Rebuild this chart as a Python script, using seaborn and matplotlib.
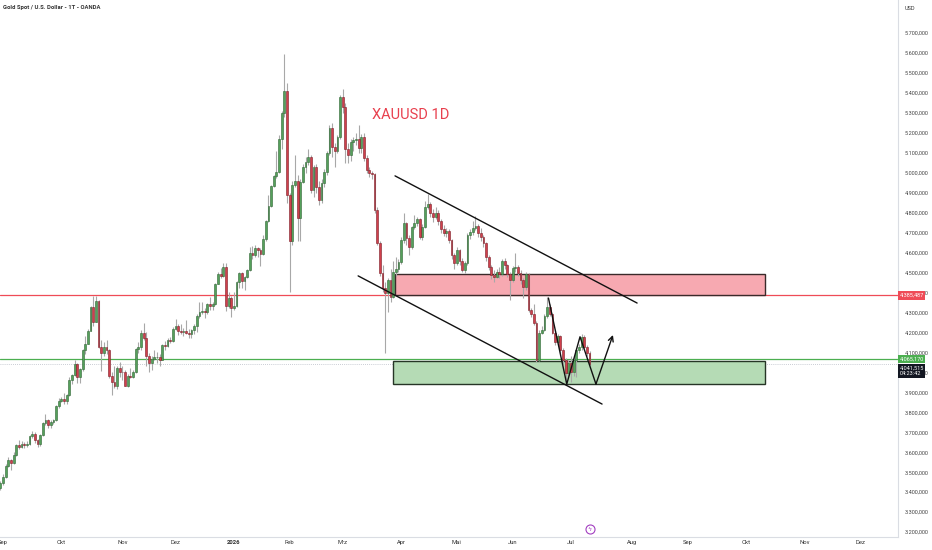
import numpy as np
import pandas as pd
import matplotlib
matplotlib.use('Agg')
import matplotlib.pyplot as plt
import matplotlib.patches as mpatches
import seaborn as sns

sns.set_theme(style='white')
plt.rcParams['font.family'] = ['Roboto', 'DejaVu Sans']

# daily candles XAUUSD, first bar = 2025-08-29, open of each bar = previous close
first_open = 3420
closes = [
    3448,
    # Sep
    3476, 3533, 3559, 3545, 3587, 3636, 3626, 3641, 3634, 3643, 3679,
    3689, 3659, 3643, 3685, 3746, 3763, 3736, 3749, 3760, 3833, 3858,
    # Okt
    3866, 3856, 3886, 3961, 3985, 4040, 3976, 4017, 4110, 4142, 4209, 4326,
    4251, 4356, 4125, 4095, 4126, 4112, 3981, 3952, 3930, 4024, 4002,
    # Nov
    4001, 3932, 3980, 3977, 4000, 4115, 4128, 4195, 4172, 4084,
    4045, 4067, 4078, 4078, 4064, 4135, 4130, 4164, 4157, 4218,
    # Dez
    4230, 4206, 4200, 4208, 4198, 4190, 4210, 4230, 4280, 4300, 4305,
    4303, 4340, 4330, 4340, 4444, 4490, 4480, 4530, 4330, 4370, 4320,
    # Jan
    4330, 4450, 4495, 4455, 4478, 4510, 4600, 4590, 4625, 4615, 4595,
    4670, 4760, 4835, 4935, 4985, 5005, 5170, 5300, 5410, 4890,
    # Feb
    4660, 4940, 4960, 4775, 4955, 5030, 5055, 5080, 4913, 5030,
    4930, 4865, 4950, 5004, 5100, 5224, 5130, 5110, 5180, 5380,
    # Mrz
    5330, 5120, 5090, 5154, 5164, 5170, 5125, 5180, 5075, 5013, 4998,
    4995, 4813, 4648, 4498, 4422, 4397, 4460, 4377, 4503, 4520, 4553,
    # Apr
    4663, 4748, 4673, 4628, 4728, 4750, 4770, 4680, 4730, 4830, 4845,
    4800, 4780, 4800, 4760, 4720, 4700, 4710, 4663, 4588, 4548,
    # Mai
    4613, 4560, 4513, 4548, 4688, 4703, 4723, 4735, 4700, 4680, 4648,
    4578, 4528, 4488, 4478, 4503, 4490, 4560, 4538, 4490, 4462,
    # Jun
    4523, 4530, 4495, 4462, 4425, 4490, 4312, 4290, 4247, 4062, 4197,
    4212, 4280, 4327, 4290, 4197, 4150, 4180, 4112, 4062, 3997, 4047,
    # Jul
    4002, 4062, 4112, 4127, 4177, 4127, 4097, 4041.515,
]
highs = [
    3455,
    3490, 3540, 3578, 3565, 3600, 3640, 3660, 3655, 3650, 3655, 3685,
    3705, 3700, 3665, 3690, 3750, 3790, 3765, 3760, 3765, 3835, 3870,
    3875, 3898, 3890, 3975, 3990, 4060, 4045, 4020, 4115, 4180, 4218, 4330,
    4380, 4380, 4360, 4160, 4150, 4160, 4115, 4000, 4030, 4030, 4050,
    4030, 4010, 3990, 4020, 4010, 4120, 4150, 4210, 4245, 4200,
    4095, 4080, 4110, 4100, 4090, 4140, 4155, 4170, 4175, 4225,
    4265, 4240, 4240, 4220, 4260, 4215, 4218, 4240, 4290, 4350, 4350,
    4320, 4345, 4375, 4350, 4448, 4500, 4525, 4550, 4550, 4400, 4380,
    4400, 4455, 4500, 4500, 4480, 4518, 4630, 4635, 4640, 4630, 4625,
    4690, 4765, 4890, 4940, 4990, 5110, 5190, 5310, 5595, 5450,
    4900, 4960, 5090, 4990, 4970, 5045, 5080, 5120, 5090, 5040,
    5045, 4960, 4970, 5020, 5110, 5240, 5250, 5150, 5190, 5390,
    5420, 5350, 5150, 5170, 5180, 5200, 5240, 5195, 5200, 5090, 5030,
    5010, 5000, 4830, 4660, 4540, 4450, 4470, 4520, 4560, 4580, 4570,
    4680, 4800, 4755, 4690, 4735, 4790, 4780, 4775, 4745, 4860, 4895,
    4855, 4820, 4830, 4815, 4770, 4740, 4725, 4720, 4670, 4600,
    4630, 4620, 4575, 4560, 4700, 4720, 4760, 4785, 4745, 4725, 4690,
    4655, 4590, 4540, 4510, 4520, 4530, 4570, 4575, 4545, 4500,
    4535, 4600, 4540, 4510, 4470, 4500, 4495, 4320, 4340, 4255, 4210,
    4230, 4290, 4375, 4340, 4295, 4205, 4190, 4185, 4120, 4070, 4060,
    4080, 4075, 4120, 4140, 4190, 4185, 4135, 4105,
]
lows = [
    3410,
    3436, 3470, 3525, 3510, 3540, 3580, 3615, 3620, 3620, 3625, 3635,
    3670, 3645, 3625, 3630, 3680, 3735, 3720, 3720, 3740, 3755, 3820,
    3850, 3840, 3840, 3880, 3940, 3980, 3945, 3945, 4005, 4090, 4140, 4205,
    4230, 4250, 4120, 4005, 4080, 4090, 3970, 3885, 3920, 3915, 3975,
    3960, 3930, 3925, 3970, 3970, 3995, 4095, 4110, 4160, 4030,
    4000, 4010, 4060, 4045, 4030, 4060, 4110, 4125, 4145, 4150,
    4210, 4185, 4190, 4180, 4190, 4170, 4170, 4190, 4200, 4270, 4290,
    4270, 4290, 4310, 4310, 4338, 4440, 4470, 4475, 4305, 4320, 4275,
    4310, 4325, 4420, 4420, 4410, 4470, 4505, 4570, 4580, 4580, 4535,
    4590, 4660, 4755, 4830, 4930, 4975, 5000, 5120, 5280, 4850,
    4400, 4640, 4930, 4660, 4660, 4950, 5000, 5040, 4900, 4880,
    4900, 4840, 4850, 4930, 4990, 5090, 5080, 5030, 5100, 5170,
    5300, 5050, 5050, 5060, 5110, 5140, 5100, 5100, 5060, 5000, 4980,
    4970, 4800, 4640, 4480, 4400, 4095, 4300, 4350, 4370, 4480, 4500,
    4545, 4650, 4640, 4590, 4620, 4720, 4735, 4670, 4665, 4725, 4820,
    4780, 4755, 4770, 4740, 4700, 4685, 4680, 4650, 4570, 4520,
    4540, 4540, 4500, 4495, 4540, 4670, 4690, 4715, 4680, 4660, 4630,
    4560, 4510, 4465, 4450, 4470, 4470, 4480, 4520, 4475, 4360,
    4450, 4500, 4480, 4440, 4370, 4410, 4300, 4275, 4235, 4050, 4055,
    4190, 4205, 4270, 4280, 4190, 4135, 4140, 4095, 4040, 3946, 3970,
    3950, 3980, 3975, 4095, 4110, 4115, 4080, 4030,
]

holidays = ['2025-12-25', '2026-01-01', '2026-04-03']
month_labels = ['Sep', 'Okt', 'Nov', 'Dez', '2026', 'Feb', 'Mrz', 'Apr',
                'Mai', 'Jun', 'Jul', 'Aug', 'Sep', 'Okt', 'Nov', 'Dez']
price_ticks = np.arange(3200, 5701, 100)

resistance = 4385.487
support = 4065.170
last_price = 4041.515
countdown = '04:23:42'

# drawings (bar position, price)
red_zone = [148.7, 288.1, 4385.487, 4490]
green_zone = [147.8, 288.1, 3940, 4058]
upper_line = [[148.7, 239.9], [4984, 4347]]
lower_line = [[134.8, 226.7], [4483, 3841]]
path_x = [206.5, 213.4, 218.4, 224.4]
path_y = [4372, 3941, 4178, 3941]
arrow_tip = [230.8, 4187]

def fmt(v):
    return f'{v:,.3f}'.replace(',', 'X').replace('.', ',').replace('X', '.')

# dataframe
days = pd.bdate_range('2025-08-29', '2026-12-31')
days = days[~days.isin(pd.to_datetime(holidays))]
df = pd.DataFrame({'date': days[:len(closes)], 'close': closes, 'high': highs, 'low': lows})
df['open'] = df['close'].shift(1).fillna(first_open)
df['pos'] = np.arange(len(df))
up = df['close'] >= df['open']

pos_all = pd.Series(np.arange(len(days)), index=days)
firsts = pos_all.groupby([days.year, days.month]).first().iloc[1:]

green = '#55a05b'
red = '#d0404c'

fig = plt.figure(figsize=(9.32, 5.5), dpi=100)
ax = fig.add_axes([0, 13 / 550, 898 / 932, 537 / 550])

ax.vlines(df['pos'], df['low'], df['high'], color='#a8a8a8', lw=0.8, zorder=2)
ax.bar(df['pos'][up], (df['close'] - df['open'])[up], bottom=df['open'][up], width=0.68,
       color=green, edgecolor='#2f6634', linewidth=0.4, zorder=3)
ax.bar(df['pos'][~up], (df['close'] - df['open'])[~up], bottom=df['open'][~up], width=0.68,
       color=red, edgecolor='#7d1e27', linewidth=0.4, zorder=3)

# levels
ax.axhline(resistance, color='#ef4b57', lw=0.9, zorder=1)
ax.axhline(support, color='#4caf50', lw=0.9, zorder=1)
ax.axhline(last_price, color='#b8bcc6', lw=0.6, ls=(0, (1, 1.5)), zorder=1)

# zones
ax.add_patch(mpatches.Rectangle((red_zone[0], red_zone[2]), red_zone[1] - red_zone[0],
                                red_zone[3] - red_zone[2], facecolor='#f7a9b1',
                                edgecolor='#3a2a2a', lw=1, zorder=1.5))
ax.add_patch(mpatches.Rectangle((green_zone[0], green_zone[2]), green_zone[1] - green_zone[0],
                                green_zone[3] - green_zone[2], facecolor='#b5dbb5',
                                edgecolor='#263526', lw=1, zorder=1.5))

# channel and projection
ax.plot(upper_line[0], upper_line[1], color='#111111', lw=1, zorder=4)
ax.plot(lower_line[0], lower_line[1], color='#111111', lw=1, zorder=4)
ax.plot(path_x, path_y, color='#111111', lw=1, zorder=4)
ax.annotate('', xy=(arrow_tip[0], arrow_tip[1]), xytext=(path_x[-1], path_y[-1]),
            arrowprops=dict(arrowstyle='->', color='#111111', lw=1,
                            mutation_scale=9, shrinkA=0, shrinkB=0), zorder=4)

ax.text(154.7, 5289, 'XAUUSD 1D', color='#e8404e', fontsize=10.5, ha='center', va='center')

ax.set_xlim(-0.13, 338.2)
ax.set_ylim(3175, 5865)

ax.yaxis.tick_right()
ax.set_yticks(price_ticks)
ax.set_yticklabels([fmt(v) for v in price_ticks])
ax.set_xticks(firsts.values)
ax.set_xticklabels(month_labels)
for lab in ax.get_xticklabels():
    if lab.get_text() == '2026':
        lab.set_fontweight('bold')
ax.tick_params(axis='y', length=0, pad=5, labelsize=4, labelcolor='#444444')
ax.tick_params(axis='x', length=0, pad=2.2, labelsize=4.2, labelcolor='#333333')
ax.grid(False)
sns.despine(ax=ax, top=True, left=True, right=False, bottom=False)
for s in ['right', 'bottom']:
    ax.spines[s].set_color('#dadde3')
    ax.spines[s].set_linewidth(0.8)

# price labels on the scale
ytr = ax.get_yaxis_transform()
ax.text(1.0015, resistance, fmt(resistance), transform=ytr, fontsize=4, color='white',
        ha='left', va='center', clip_on=False, zorder=6,
        bbox=dict(boxstyle='square,pad=0.3', fc='#ef4b57', ec='none'))
ax.text(1.0015, support, fmt(support), transform=ytr, fontsize=4, color='white',
        ha='left', va='center', clip_on=False, zorder=6,
        bbox=dict(boxstyle='square,pad=0.3', fc='#4caf50', ec='none'))
ax.text(1.0015, last_price - 8, fmt(last_price) + '\n' + countdown, transform=ytr, fontsize=4,
        color='white', ha='left', va='top', clip_on=False, zorder=6, linespacing=1.2,
        bbox=dict(boxstyle='square,pad=0.3', fc='#131722', ec='none'))

# event marker
xtr = ax.get_xaxis_transform()
ax.plot([df['pos'].iloc[-1]], [0.014], transform=xtr, marker='o', ms=6.5, mfc='white',
        mec='#a23ec0', mew=0.8, clip_on=False, zorder=6)
ax.text(df['pos'].iloc[-1], 0.014, 'ϟ', transform=xtr, fontsize=4.5, color='#a23ec0',
        ha='center', va='center', clip_on=False, zorder=7, family=['DejaVu Sans'])

fig.text(3 / 932, 1 - 7 / 550, 'Gold Spot / U.S. Dollar - 1T - OANDA', fontsize=4.2,
         fontweight='bold', color='#333333', ha='left', va='center')
fig.text(905 / 932, 1 - 8 / 550, 'USD', fontsize=4, color='#333333', ha='left', va='center')

fig.savefig('out.png', dpi=100)
